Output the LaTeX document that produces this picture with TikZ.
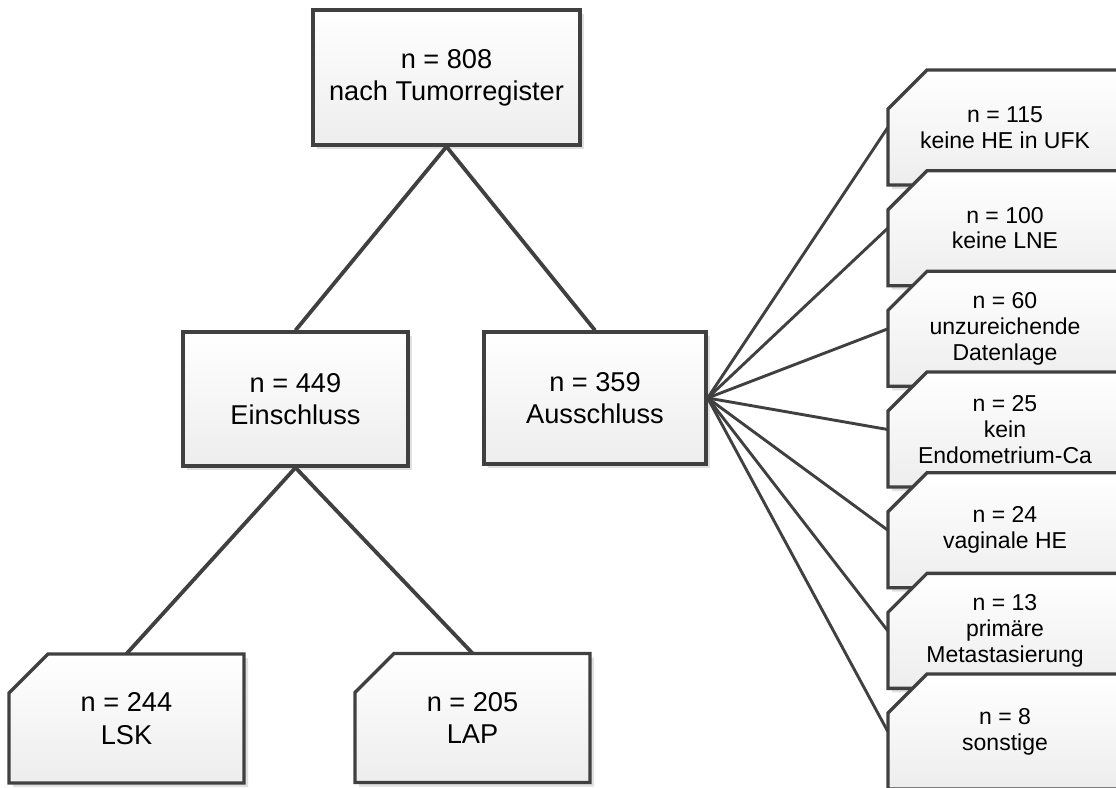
\documentclass[tikz,border=0pt]{standalone}
\usepackage{fontspec}
\setmainfont{Liberation Sans}
\usetikzlibrary{shadows}
\definecolor{rahmen}{HTML}{404040}

% Kasten mit abgeschraegter Ecke: Name, x, y, Breite, Hoehe, Text
\newcommand\eckkasten[6]{%
  \path[eckform] ({#2-#4/2+39},{#3-#5/2}) -- ({#2+#4/2},{#3-#5/2})
    -- ({#2+#4/2},{#3+#5/2}) -- ({#2-#4/2},{#3+#5/2}) -- ({#2-#4/2},{#3-#5/2+39}) -- cycle;
  \node[kastentext, minimum width=#4pt, minimum height=#5pt] (#1) at (#2,#3) {#6};
}

\begin{document}
\begin{tikzpicture}[x=1pt, y=-1pt,
  eckform/.style={draw=rahmen, line width=3.3pt, top color=white, bottom color=black!7,
    drop shadow={shadow xshift=4pt, shadow yshift=-4pt, fill=black!12, opacity=1}},
  kastentext/.style={align=center, inner sep=0pt, font=\fontsize{27.2}{32.3}\selectfont},
  kasten/.style={eckform, kastentext},
  klein/.style={font=\fontsize{23}{25.7}\selectfont},
  ast/.style={draw=rahmen, line width=3.8pt},
  faecher/.style={draw=rahmen, line width=2.9pt}]

\useasboundingbox (0,0) rectangle (1116,787);
\clip (0,0) rectangle (1116,787);

% Baum links
\node[kasten, minimum width=267pt, minimum height=135pt] (gesamt) at (446.5,77.5) {n = 808\\nach Tumorregister};
\node[kasten, minimum width=225pt, minimum height=134pt] (ein) at (295.5,399) {n = 449\\Einschluss};
\node[kasten, minimum width=222pt, minimum height=132pt] (aus) at (595,398) {n = 359\\Ausschluss};
\eckkasten{lsk}{126.5}{718.5}{235}{129}{n = 244\\LSK}
\eckkasten{lap}{472.5}{718}{235}{129}{n = 205\\LAP}

% Ausschlussgruende rechts
\tikzset{kastentext/.append style={klein}}
\foreach \nr/\grund [count=\i] in {115/keine HE in UFK, 100/keine LNE,
    60/unzureichende\\Datenlage, 25/kein\\Endometrium-Ca, 24/vaginale HE,
    13/primäre\\Metastasierung, 8/sonstige}{
  \pgfmathsetmacro\ym{127.5+100.67*(\i-1)}
  \eckkasten{grund\i}{1005}{\ym}{234}{115}{n = \nr\\\grund}
}

\draw[ast] (gesamt.south) -- (ein.north);
\draw[ast] (gesamt.south) -- (aus.north);
\draw[ast] (ein.south) -- (lsk.north);
\draw[ast] (ein.south) -- (lap.north);
\foreach \i in {1,...,7}
  \draw[faecher] (aus.east) -- (grund\i.west);

\end{tikzpicture}
\end{document}
